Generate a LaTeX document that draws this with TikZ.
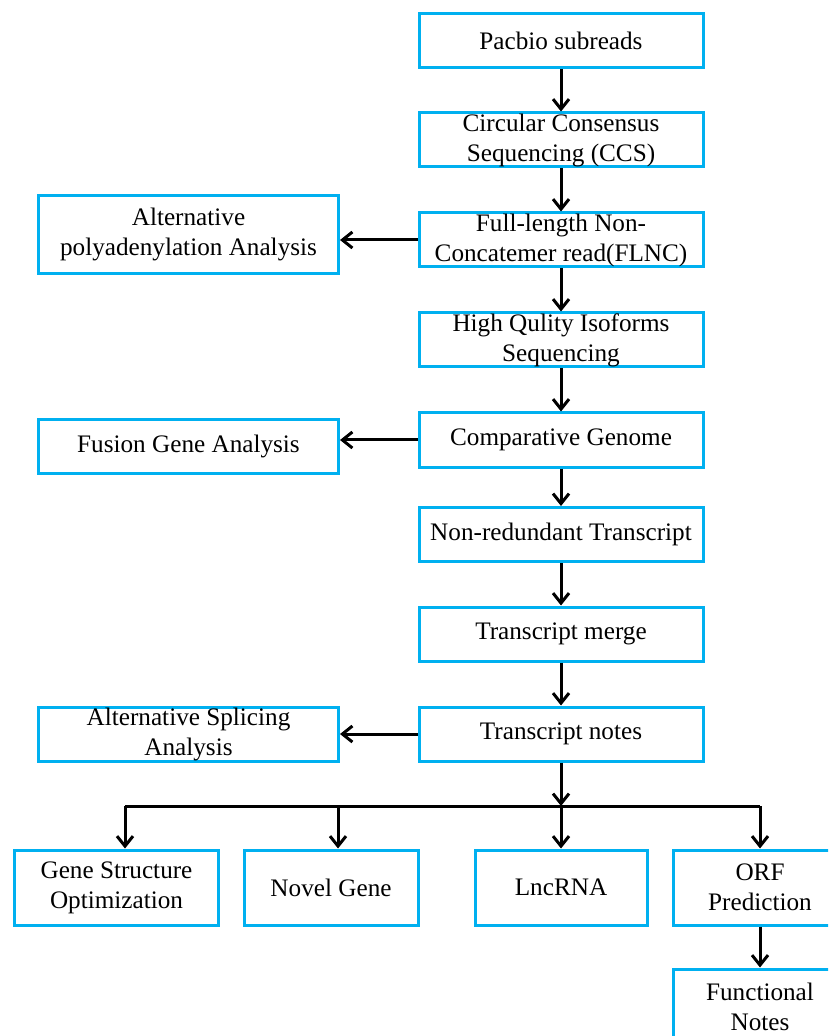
\documentclass[tikz,border=0pt]{standalone}
\usepackage{fontspec}
\setmainfont{Liberation Serif}
\usetikzlibrary{arrows.meta}
\definecolor{boxblue}{RGB}{0,176,240}
\begin{document}
\begin{tikzpicture}[x=0.5pt,y=-0.5pt,
    stage/.style={draw=boxblue, line width=1.5pt, inner sep=0pt, align=center,
      minimum width=142pt, minimum height=27pt,
      font=\fontsize{12.6}{15}\selectfont},
    side/.style={stage, minimum width=150pt},
    leaf/.style={stage, minimum height=37.5pt},
    flow/.style={-{Straight Barb[length=5pt,width=8pt,line width=1.5pt]}, line width=1.5pt}]
      \useasboundingbox (0,0) rectangle (828,1036);
      \clip (0,0) rectangle (828,1036);
      \draw
        (561,40.5) node[stage] (pacbio){Pacbio subreads}
        (561,140) node[stage] (ccs){Circular Consensus\\Sequencing (CCS)}
        (561,240) node[stage] (flnc){Full-length Non-\\Concatemer read(FLNC)}
        (561,340) node[stage] (hq){High Qulity Isoforms\\Sequencing}
        (561,440) node[stage] (comp){Comparative Genome}
        (561,534.5) node[stage] (nonred){Non-redundant Transcript}
        (561,634) node[stage] (merge){Transcript merge}
        (561,734) node[stage] (notes){Transcript notes}
        (188.5,234.5) node[side, minimum height=39pt] (apa){Alternative\\polyadenylation Analysis}
        (188.5,446.5) node[side] (fusion){Fusion Gene Analysis}
        (188.5,734) node[side] (splice){Alternative Splicing\\Analysis}
        (116.5,887.5) node[leaf, minimum width=102pt] (gso){Gene Structure\\Optimization}
        (331,887.5) node[leaf, minimum width=87pt] (novel){Novel Gene}
        (561,887.5) node[leaf, minimum width=86pt] (lnc){LncRNA}
        (760,887.5) node[leaf, minimum width=87pt] (orf){ORF\\Prediction}
        (760,1006.5) node[leaf, minimum width=87pt] (func){Functional\\Notes};
      \coordinate (bar) at (561,806);
      \coordinate (b1) at (125,806);
      \coordinate (b2) at (338,806);
      \coordinate (b4) at (760,806);
      \begin{scope}[flow]
        \draw (pacbio) to (ccs);
        \draw (ccs) to (flnc);
        \draw (flnc) to (hq);
        \draw (hq) to (comp);
        \draw (comp) to (nonred);
        \draw (nonred) to (merge);
        \draw (merge) to (notes);
        \draw (flnc.west) to (flnc.west -| apa.east);
        \draw (comp.west) to (comp.west -| fusion.east);
        \draw (notes.west) to (notes.west -| splice.east);
        \draw (notes) to (bar);
        \draw (b1) to (b1 |- gso.north);
        \draw (b2) to (b2 |- novel.north);
        \draw (bar) to (lnc);
        \draw (b4) to (orf);
        \draw (orf) to (func);
      \end{scope}
      \draw[line width=1.5pt] (b1) -- (b4);
    \end{tikzpicture}
\end{document}
